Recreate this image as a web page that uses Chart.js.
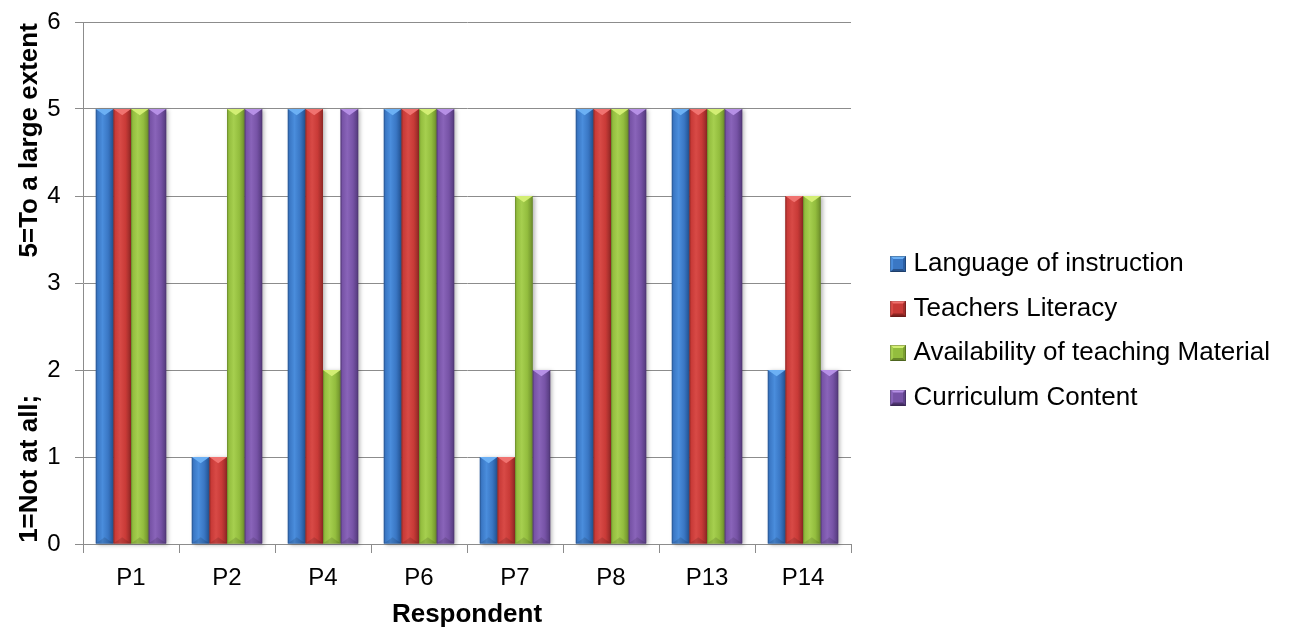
<!DOCTYPE html>
<html>
<head>
<meta charset="utf-8">
<title>Respondent ratings</title>
<script src="https://cdn.jsdelivr.net/npm/chart.js@4.4.1/dist/chart.umd.min.js"></script>
<style>
  html, body { margin: 0; padding: 0; background: #ffffff; }
  #wrap { width: 1292px; height: 630px; }
</style>
</head>
<body>
<div id="wrap"><canvas id="chart" width="1292" height="630"></canvas></div>
<script>
// Respondents on the category axis
const respondents = ['P1', 'P2', 'P4', 'P6', 'P7', 'P8', 'P13', 'P14'];

// Ratings per factor (1 = not at all, 5 = to a large extent)
const languageOfInstruction = [5, 1, 5, 5, 1, 5, 5, 2];
const teachersLiteracy      = [5, 1, 5, 5, 1, 5, 5, 4];
const teachingMaterial      = [5, 5, 2, 5, 4, 5, 5, 4];
const curriculumContent     = [5, 5, 5, 5, 2, 5, 5, 2];

const seriesNames = [
  'Language of instruction',
  'Teachers Literacy',
  'Availability of teaching Material',
  'Curriculum Content'
];

// Value axis range
const yMin = 0;
const yMax = 6;
const yStep = 1;

const FONT = "'Liberation Sans', Arial, Helvetica, sans-serif";
const GRID = '#8c8c8c';

// Bevelled bar shading per series
const palettes = [
  { base: '#3a77c4', dark: '#27528c', light: '#4a8ddc', top: '#6cb0f4', bottom: '#2a5ea3' },
  { base: '#c83a37', dark: '#8e2522', light: '#d84a46', top: '#f07370', bottom: '#a22e2b' },
  { base: '#93bd3e', dark: '#67862a', light: '#a6cf4f', top: '#d3ee74', bottom: '#7a9e31' },
  { base: '#7753a6', dark: '#4d346f', light: '#8964b9', top: '#b690e6', bottom: '#5f428a' }
];

// Small bevelled swatch for the legend, square sitting at the right of the image
function makeSwatch(p) {
  const w = 42, s = 16, c = document.createElement('canvas');
  c.width = w; c.height = s;
  const g = c.getContext('2d');
  const x0 = w - s;
  g.fillStyle = p.base;
  g.fillRect(x0, 0, s, s);
  const cx = x0 + s / 2, cy = s / 2;
  const tri = (pts, col) => {
    g.beginPath(); g.moveTo(pts[0], pts[1]);
    for (let i = 2; i < pts.length; i += 2) g.lineTo(pts[i], pts[i + 1]);
    g.closePath(); g.fillStyle = col; g.fill();
  };
  tri([x0, 0, x0 + s, 0, cx, cy], p.top);
  tri([x0, s, x0 + s, s, cx, cy], p.dark);
  tri([x0, 0, x0, s, cx, cy], p.light);
  tri([x0 + s, 0, x0 + s, s, cx, cy], p.bottom);
  g.fillStyle = p.base;
  g.fillRect(x0 + 3, 3, s - 6, s - 6);
  g.strokeStyle = 'rgba(0,0,0,0.25)';
  g.lineWidth = 1;
  g.strokeRect(x0 + 0.5, 0.5, s - 1, s - 1);
  return c;
}
const swatches = palettes.map(makeSwatch);

// Lets the right-hand legend take its full text width instead of a quarter of the canvas
const wideLegend = {
  id: 'wideLegend',
  beforeLayout(chart) {
    const lg = chart.legend;
    if (lg && !lg.__wide) {
      const update = lg.update.bind(lg);
      lg.update = (maxWidth, maxHeight, margins) => update(Math.max(maxWidth, 520), maxHeight, margins);
      lg.__wide = true;
    }
  }
};

// Draws the bevel shading over each bar the library has laid out
const bevelBars = {
  id: 'bevelBars',
  afterDatasetsDraw(chart) {
    const ctx = chart.ctx;
    chart.data.datasets.forEach((ds, di) => {
      const meta = chart.getDatasetMeta(di);
      if (meta.hidden) return;
      const p = palettes[di];
      meta.data.forEach(bar => {
        const { x, y, base, width } = bar.getProps(['x', 'y', 'base', 'width'], true);
        const l = x - width / 2, r = x + width / 2, h = base - y;
        ctx.save();
        ctx.shadowColor = 'rgba(0,0,0,0.28)';
        ctx.shadowBlur = 4;
        ctx.shadowOffsetX = 2;
        ctx.shadowOffsetY = 1;
        const g = ctx.createLinearGradient(l, 0, r, 0);
        g.addColorStop(0, p.dark);
        g.addColorStop(0.1, p.base);
        g.addColorStop(0.38, p.light);
        g.addColorStop(0.7, p.base);
        g.addColorStop(0.9, p.bottom);
        g.addColorStop(1, p.dark);
        ctx.fillStyle = g;
        ctx.fillRect(l, y, width, h);
        ctx.restore();

        const d = Math.min(width * 0.36, h / 2);
        ctx.save();
        ctx.beginPath();
        ctx.moveTo(l, y); ctx.lineTo(r, y); ctx.lineTo(x, y + d); ctx.closePath();
        ctx.fillStyle = p.top;
        ctx.fill();
        ctx.beginPath();
        ctx.moveTo(l, base); ctx.lineTo(r, base); ctx.lineTo(x, base - d); ctx.closePath();
        ctx.fillStyle = 'rgba(0,0,0,0.12)';
        ctx.fill();
        ctx.restore();
      });
    });
  }
};

const seriesValues = [languageOfInstruction, teachersLiteracy, teachingMaterial, curriculumContent];

const datasets = seriesValues.map((vals, i) => ({
  label: seriesNames[i],
  data: vals,
  backgroundColor: palettes[i].base,
  borderWidth: 0,
  categoryPercentage: 0.733,
  barPercentage: 1.0
}));

const yTitle = '1=Not at all;' + ' '.repeat(19) + '5=To a large extent';

new Chart(document.getElementById('chart'), {
  type: 'bar',
  data: { labels: respondents, datasets },
  plugins: [wideLegend, bevelBars],
  options: {
    responsive: false,
    animation: false,
    devicePixelRatio: 1,
    layout: { padding: { top: 22, right: 12, bottom: 0, left: 0 } },
    plugins: {
      tooltip: { enabled: false },
      title: { display: false },
      legend: {
        position: 'right',
        align: 'center',
        title: { display: true, text: '', font: { size: 4 }, padding: { top: 0, bottom: 4.7 } },
        labels: {
          usePointStyle: true,
          pointStyleWidth: 31,
          padding: 18.5,
          color: '#000000',
          font: { family: FONT, size: 26 },
          generateLabels(chart) {
            const items = Chart.defaults.plugins.legend.labels.generateLabels(chart);
            items.forEach((it, i) => { it.pointStyle = swatches[i]; });
            return items;
          }
        }
      }
    },
    scales: {
      x: {
        offset: true,
        afterFit(scale) { scale.height = 86; },
        grid: {
          offset: true,
          drawOnChartArea: false,
          drawTicks: true,
          tickLength: 9,
          color: GRID,
          lineWidth: 1
        },
        border: { display: true, color: GRID, width: 1 },
        ticks: {
          color: '#000000',
          font: { family: FONT, size: 24 },
          padding: 10.6,
          maxRotation: 0,
          autoSkip: false
        },
        title: {
          display: true,
          text: 'Respondent',
          color: '#000000',
          font: { family: FONT, size: 26, weight: 'bold' },
          padding: { top: 0, bottom: 0 }
        }
      },
      y: {
        min: yMin,
        max: yMax,
        afterFit(scale) {
          scale.width = 83;
          scale.paddingTop = 0;
        },
        grid: {
          drawOnChartArea: true,
          drawTicks: true,
          tickLength: 8,
          color: GRID,
          lineWidth: 1
        },
        border: { display: true, color: GRID, width: 1 },
        ticks: {
          stepSize: yStep,
          color: '#000000',
          font: { family: FONT, size: 24 },
          padding: 14.5
        },
        title: {
          display: true,
          text: yTitle,
          color: '#000000',
          font: { family: FONT, size: 26, weight: 'bold' },
          padding: { top: 14.4, bottom: 0 }
        }
      }
    }
  }
});
</script>
</body>
</html>
